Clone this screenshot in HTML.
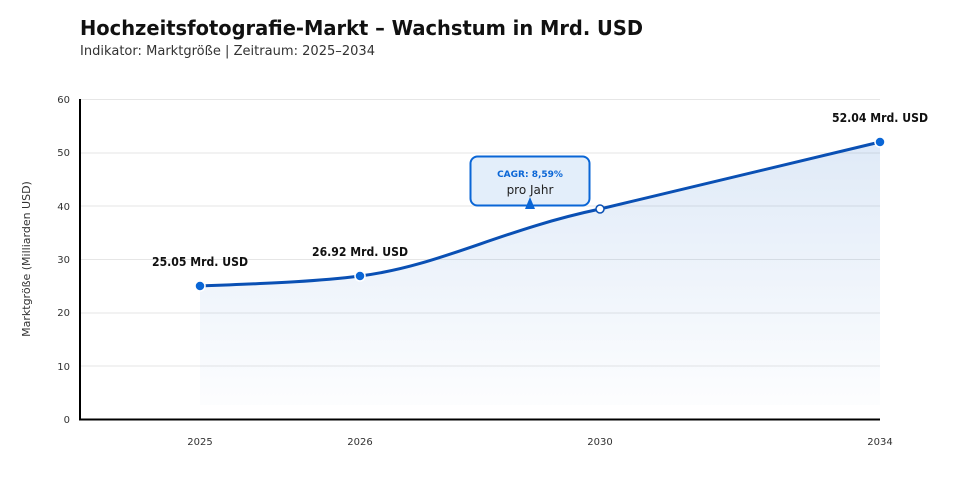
<!DOCTYPE html>
<html><head><meta charset="utf-8"><style>
body{margin:0;background:#fff;width:960px;height:500px;overflow:hidden;font-family:"DejaVu Sans","Liberation Sans",sans-serif}
</style></head><body>
<svg width="960" height="500" xmlns="http://www.w3.org/2000/svg" font-family="DejaVu Sans, Liberation Sans, sans-serif">
<defs><linearGradient id="g" x1="0" y1="0" x2="0" y2="1"><stop offset="0" stop-color="#0a5cc4" stop-opacity="0.13"/><stop offset="1" stop-color="#0a5cc4" stop-opacity="0.01"/></linearGradient></defs>
<text x="80" y="35" font-size="20" font-weight="bold" fill="#111" textLength="563" lengthAdjust="spacingAndGlyphs">Hochzeitsfotografie-Markt – Wachstum in Mrd. USD</text>
<text x="80" y="55" font-size="13" fill="#333" textLength="295" lengthAdjust="spacingAndGlyphs">Indikator: Marktgröße | Zeitraum: 2025–2034</text>
<g stroke="#e6e6e6" stroke-width="1">
<line x1="80" y1="99.5" x2="880" y2="99.5"/><line x1="80" y1="153" x2="880" y2="153"/><line x1="80" y1="206" x2="880" y2="206"/><line x1="80" y1="259.5" x2="880" y2="259.5"/><line x1="80" y1="313" x2="880" y2="313"/><line x1="80" y1="366" x2="880" y2="366"/></g>
<g font-size="10" fill="#333" text-anchor="end">
<text x="70" y="103">60</text><text x="70" y="156">50</text><text x="70" y="210">40</text><text x="70" y="263">30</text><text x="70" y="316">20</text><text x="70" y="370">10</text><text x="70" y="423">0</text></g>
<text transform="translate(30,259) rotate(-90)" font-size="11" fill="#333" text-anchor="middle">Marktgröße (Milliarden USD)</text>
<path d="M200,286 C280,283 320,281 360,276 C440,266 500,230 600,209 C700,185 800,162 880,142 L880,405 L200,405 Z" fill="url(#g)"/>
<path d="M200,286 C280,283 320,281 360,276 C440,266 500,230 600,209 C700,185 800,162 880,142" fill="none" stroke="#0a50b4" stroke-width="3"/>
<line x1="80" y1="99" x2="80" y2="420" stroke="#000" stroke-width="2"/>
<line x1="79" y1="419.5" x2="880" y2="419.5" stroke="#000" stroke-width="2"/>
<g font-size="10" fill="#333" text-anchor="middle">
<text x="200" y="445">2025</text><text x="360" y="445">2026</text><text x="600" y="445">2030</text><text x="880" y="445">2034</text></g>
<circle cx="200" cy="286" r="5" fill="#0a66d6" stroke="#fff" stroke-width="1.5"/>
<circle cx="360" cy="276" r="5" fill="#0a66d6" stroke="#fff" stroke-width="1.5"/>
<circle cx="600" cy="209" r="4" fill="#fff" stroke="#0a50b4" stroke-width="1.5"/>
<circle cx="880" cy="142" r="5" fill="#0a66d6" stroke="#fff" stroke-width="1.5"/>
<g font-size="12" font-weight="bold" fill="#111" text-anchor="middle">
<text x="200" y="266" textLength="96" lengthAdjust="spacingAndGlyphs">25.05 Mrd. USD</text><text x="360" y="256" textLength="96" lengthAdjust="spacingAndGlyphs">26.92 Mrd. USD</text><text x="880" y="122" textLength="96" lengthAdjust="spacingAndGlyphs">52.04 Mrd. USD</text></g>
<rect x="470.5" y="156.5" width="119" height="49" rx="7" fill="#e3eefa" stroke="#0a66d6" stroke-width="2"/>
<path d="M525,209 L530,197 L535,209 Z" fill="#0a66d6"/>
<text x="530" y="177" font-size="9" font-weight="bold" fill="#0a66d6" text-anchor="middle">CAGR: 8,59%</text>
<text x="530" y="194" font-size="12" fill="#222" text-anchor="middle">pro Jahr</text>
</svg>
</body></html>
